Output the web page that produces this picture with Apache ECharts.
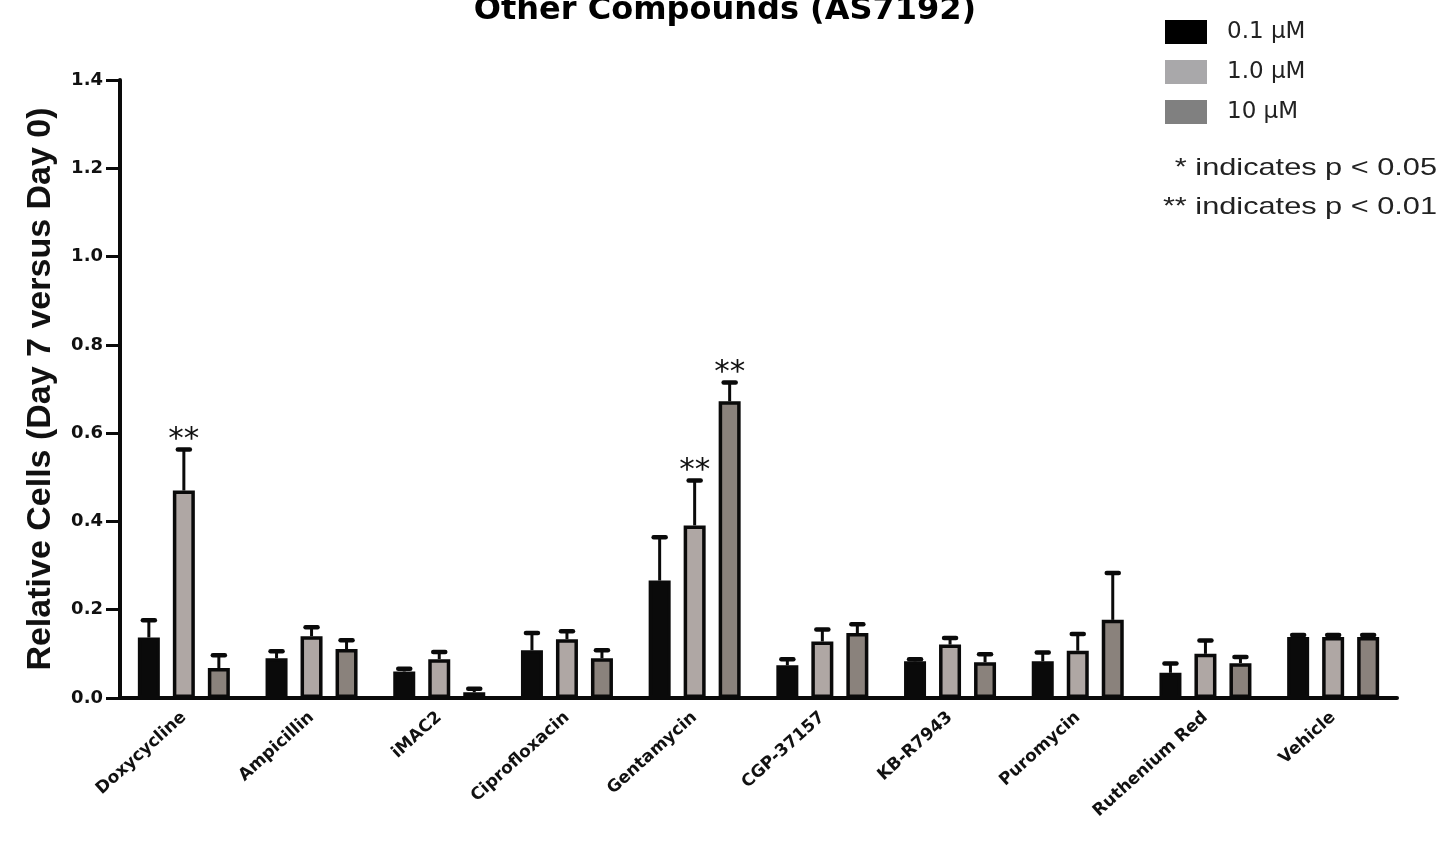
<!DOCTYPE html>
<html>
<head>
<meta charset="utf-8">
<script src="https://cdn.jsdelivr.net/npm/echarts@6/dist/echarts.min.js"></script>
<style>
html,body{margin:0;padding:0;background:#fff;}
#chart{width:1449px;height:841px;}
</style>
</head>
<body>
<div id="chart"></div>
<script>
const categories = ['Doxycycline','Ampicillin','iMAC2','Ciprofloxacin','Gentamycin','CGP-37157','KB-R7943','Puromycin','Ruthenium Red','Vehicle'];
const seriesNames = ['0.1 \u03bcM','1.0 \u03bcM','10 \u03bcM'];
const mean01 = [0.137, 0.090, 0.060, 0.108, 0.266, 0.074, 0.083, 0.083, 0.057, 0.138];
const err01  = [0.039, 0.016, 0.006, 0.039, 0.098, 0.014, 0.005, 0.020, 0.021, 0.005];
const mean1  = [0.470, 0.140, 0.088, 0.133, 0.391, 0.128, 0.121, 0.107, 0.100, 0.138];
const err1   = [0.093, 0.020, 0.016, 0.018, 0.102, 0.027, 0.015, 0.038, 0.030, 0.005];
const mean10 = [0.068, 0.111, 0.013, 0.090, 0.672, 0.147, 0.081, 0.177, 0.079, 0.138];
const err10  = [0.029, 0.020, 0.008, 0.018, 0.043, 0.020, 0.018, 0.106, 0.014, 0.005];
const sig01  = ['', '', '', '', '', '', '', '', '', ''];
const sig1   = ['**', '', '', '', '**', '', '', '', '', ''];
const sig10  = ['', '', '', '', '**', '', '', '', '', ''];
const yTicks = { min: 0, max: 1.4, interval: 0.2 };
const titleText = 'Other Compounds (AS7192)';
const yAxisTitle = 'Relative Cells (Day 7 versus Day 0)';
const notes = ['* indicates p < 0.05', '** indicates p < 0.01'];

const fills = ['#0a0a0a', '#afa7a4', '#8a827c'];
const legendFills = ['#000000', '#a9a8aa', '#808080'];
const BAR_W = 22, GAP = 13;
const means = [mean01, mean1, mean10];
const errs = [err01, err1, err10];
const sigs = [sig01, sig1, sig10];

const series = [];
means.forEach((m, i) => {
  series.push({
    name: seriesNames[i], type: 'bar', data: m,
    barWidth: BAR_W, barGap: (GAP / BAR_W * 100) + '%',
    itemStyle: { color: fills[i], borderColor: '#0a0a0a', borderWidth: 3.5 },
    z: 2, silent: true
  });
});
means.forEach((m, i) => {
  const off = (i - 1) * (BAR_W + GAP);
  series.push({
    type: 'custom', name: seriesNames[i] + ' err', z: 3, silent: true,
    encode: { x: 0, y: 1 },
    data: m.map((v, k) => [k, v, errs[i][k], v + errs[i][k]]),
    renderItem: function (params, api) {
      const k = api.value(0);
      const base = api.coord([k, api.value(1)]);
      const top = api.coord([k, api.value(3)]);
      const x = base[0] + off;
      const children = [
        { type: 'line', shape: { x1: x, y1: base[1], x2: x, y2: top[1] }, style: { stroke: '#0a0a0a', lineWidth: 3 } },
        { type: 'line', shape: { x1: x - 6, y1: top[1], x2: x + 6, y2: top[1] }, style: { stroke: '#0a0a0a', lineWidth: 4.5, lineCap: 'round' } }
      ];
      const s = sigs[i][k];
      if (s) {
        children.push({ type: 'text', x: x, y: top[1] + 6, style: { text: s, fontFamily: 'DejaVu Sans', fontSize: 31, fill: '#111', align: 'center', verticalAlign: 'bottom' } });
      }
      return { type: 'group', children: children };
    }
  });
});

const chart = echarts.init(document.getElementById('chart'), null, { renderer: 'canvas' });
chart.setOption({
  animation: false,
  backgroundColor: '#fff',
  title: {
    text: titleText, left: 720, top: -10, textAlign: 'center',
    textStyle: { fontFamily: 'DejaVu Sans', fontWeight: 'bold', fontSize: 32, color: '#000' }
  },
  legend: {
    orient: 'vertical', left: 1160, top: 15, itemWidth: 42, itemHeight: 24, itemGap: 16,
    icon: 'rect', selectedMode: false,
    data: seriesNames.map((n, i) => ({ name: n, itemStyle: { color: legendFills[i], borderWidth: 0 } })),
    textStyle: { fontFamily: 'DejaVu Sans', fontSize: 23, color: '#222', padding: [0, 0, 0, 15] }
  },
  grid: { left: 120, right: 52, top: 80, bottom: 143, containLabel: false },
  xAxis: {
    type: 'category', data: categories,
    axisLine: { lineStyle: { color: '#0a0a0a', width: 4 } },
    axisTick: { alignWithLabel: true, length: 14, lineStyle: { color: '#0a0a0a', width: 4 } },
    axisLabel: { interval: 0, rotate: 42, margin: 17, fontFamily: 'DejaVu Sans', fontWeight: 'bold', fontSize: 17, color: '#111' }
  },
  yAxis: {
    type: 'value', min: yTicks.min, max: yTicks.max, interval: yTicks.interval,
    name: yAxisTitle, nameLocation: 'middle', nameGap: 62,
    nameTextStyle: { fontFamily: 'Liberation Sans', fontWeight: 'bold', fontSize: 34, color: '#111' },
    axisLine: { show: true, lineStyle: { color: '#0a0a0a', width: 4 } },
    axisTick: { show: true, length: 14, lineStyle: { color: '#0a0a0a', width: 3 } },
    splitLine: { show: false },
    axisLabel: { margin: 17, fontFamily: 'DejaVu Sans', fontWeight: 'bold', fontSize: 18, color: '#111', formatter: v => v.toFixed(1) }
  },
  graphic: notes.map((t, i) => ({
    type: 'text', x: 1437, y: 168 + i * 39, scaleX: 1.28, silent: true,
    style: { text: t, fontFamily: 'Liberation Sans', fontSize: 24, fill: '#222', align: 'right', verticalAlign: 'middle' }
  })),
  series: series
});
</script>
</body>
</html>
